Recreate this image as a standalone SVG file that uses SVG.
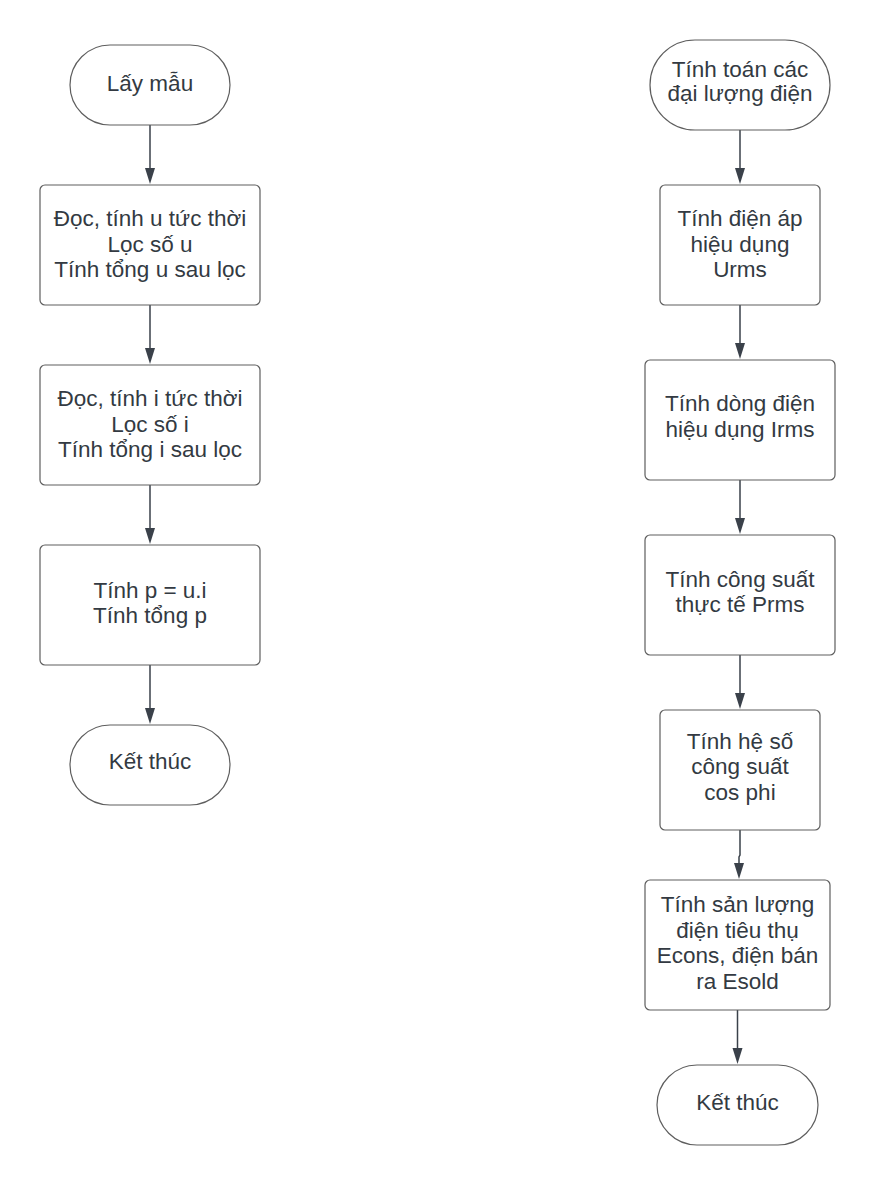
<svg xmlns="http://www.w3.org/2000/svg" width="875" height="1185" viewBox="0 0 875 1185">
<style>
.n{fill:#ffffff;stroke:#5e5e5e;stroke-width:1.2}
.t{font-family:"Liberation Sans",Arial,sans-serif;font-size:22.5px;fill:#333a42;text-anchor:middle}
.c{fill:none;stroke:#3a414a;stroke-width:1.5}
.h{fill:#3a414a}
</style>
<rect width="875" height="1185" fill="#ffffff"/>
<g id="connectors">
<path class="c" d="M150 125 V168"/><path class="h" d="M145 168 L155 168 L150 184 Z"/>
<path class="c" d="M150 305 V348"/><path class="h" d="M145 348 L155 348 L150 364 Z"/>
<path class="c" d="M150 485 V528"/><path class="h" d="M145 528 L155 528 L150 544 Z"/>
<path class="c" d="M150 665 V708"/><path class="h" d="M145 708 L155 708 L150 724 Z"/>
<path class="c" d="M740 130 V168"/><path class="h" d="M735 168 L745 168 L740 184 Z"/>
<path class="c" d="M740 305 V343"/><path class="h" d="M735 343 L745 343 L740 359 Z"/>
<path class="c" d="M740 480 V518"/><path class="h" d="M735 518 L745 518 L740 534 Z"/>
<path class="c" d="M740 655 V693"/><path class="h" d="M735 693 L745 693 L740 709 Z"/>
<path class="c" d="M740 830 V855 L739 857 V863"/><path class="h" d="M734 863 L744 863 L739 879 Z"/>
<path class="c" d="M737.5 1010 V1048"/><path class="h" d="M732.5 1048 L742.5 1048 L737.5 1064 Z"/>
</g>
<g id="n1"><rect class="n" x="70" y="45" width="160" height="80" rx="40"/><text class="t" x="150" y="91">Lấy mẫu</text></g>
<g id="n2"><rect class="n" x="40" y="185" width="220" height="120" rx="5"/>
<text class="t" x="150" y="226">Đọc, tính u tức thời</text><text class="t" x="150" y="251.5">Lọc số u</text><text class="t" x="150" y="277">Tính tổng u sau lọc</text></g>
<g id="n3"><rect class="n" x="40" y="365" width="220" height="120" rx="5"/>
<text class="t" x="150" y="406">Đọc, tính i tức thời</text><text class="t" x="150" y="431.5">Lọc số i</text><text class="t" x="150" y="457">Tính tổng i sau lọc</text></g>
<g id="n4"><rect class="n" x="40" y="545" width="220" height="120" rx="5"/>
<text class="t" x="150" y="598">Tính p = u.i</text><text class="t" x="150" y="623">Tính tổng p</text></g>
<g id="n5"><rect class="n" x="70" y="725" width="160" height="80" rx="40"/><text class="t" x="150" y="769">Kết thúc</text></g>
<g id="r1"><rect class="n" x="650" y="40" width="180" height="90" rx="45"/>
<text class="t" x="740" y="77">Tính toán các</text><text class="t" x="740" y="101">đại lượng điện</text></g>
<g id="r2"><rect class="n" x="660" y="185" width="160" height="120" rx="5"/>
<text class="t" x="740" y="226">Tính điện áp</text><text class="t" x="740" y="251.5">hiệu dụng</text><text class="t" x="740" y="277">Urms</text></g>
<g id="r3"><rect class="n" x="645" y="360" width="190" height="120" rx="5"/>
<text class="t" x="740" y="411">Tính dòng điện</text><text class="t" x="740" y="437">hiệu dụng Irms</text></g>
<g id="r4"><rect class="n" x="645" y="535" width="190" height="120" rx="5"/>
<text class="t" x="740" y="587">Tính công suất</text><text class="t" x="740" y="612">thực tế Prms</text></g>
<g id="r5"><rect class="n" x="660" y="710" width="160" height="120" rx="5"/>
<text class="t" x="740" y="749">Tính hệ số</text><text class="t" x="740" y="774">công suất</text><text class="t" x="740" y="800">cos phi</text></g>
<g id="r6"><rect class="n" x="645" y="880" width="185" height="130" rx="5"/>
<text class="t" x="737.5" y="912">Tính sản lượng</text><text class="t" x="737.5" y="937.5">điện tiêu thụ</text><text class="t" x="737.5" y="963">Econs, điện bán</text><text class="t" x="737.5" y="988.5">ra Esold</text></g>
<g id="r7"><rect class="n" x="657" y="1065" width="161" height="80" rx="40"/><text class="t" x="737.5" y="1110">Kết thúc</text></g>
</svg>
